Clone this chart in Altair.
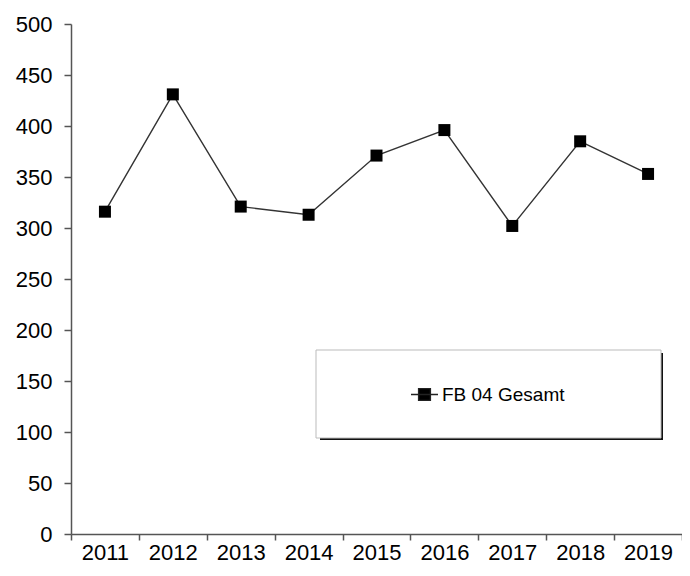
import altair as alt
import pandas as pd

years = [2011, 2012, 2013, 2014, 2015, 2016, 2017, 2018, 2019]
values = [316, 431, 321, 313, 371, 396, 302, 385, 353]
series_name = "FB 04 Gesamt"
y_ticks = list(range(0, 501, 50))

df = pd.DataFrame({"year": years, "value": values, "series": [series_name] * len(years)})

boundaries = [y - 0.5 for y in years] + [years[-1] + 0.5]
FONT = "Liberation Sans"
AX = "#555555"
W = 611
H = 510
BAND = W / len(years)

x_enc = alt.X(
    "year:Q",
    scale=alt.Scale(domain=[boundaries[0], boundaries[-1]], nice=False, zero=False),
    axis=alt.Axis(
        title=None, values=boundaries, grid=False,
        labelExpr=f"datum.value < {years[-1]} ? toString(datum.value + 0.5) : ''",
        labelOffset=BAND / 2, labelOverlap=False, labelFlush=False, labelBound=False,
        tickSize=6, labelPadding=2,
    ),
)
y_enc = alt.Y(
    "value:Q",
    scale=alt.Scale(domain=[0, 500], nice=False),
    axis=alt.Axis(title=None, values=y_ticks, grid=False, tickSize=7, labelPadding=12),
)

line = alt.Chart(df).mark_line(color="#333333", strokeWidth=1.4).encode(x=x_enc, y=y_enc)
points = alt.Chart(df).mark_point(shape="square", filled=True, size=144, opacity=1).encode(
    x=x_enc, y=y_enc,
    color=alt.Color(
        "series:N",
        scale=alt.Scale(domain=[series_name], range=["black"]),
        legend=alt.Legend(
            title=None, orient="none", legendX=339, legendY=356,
            symbolType="M-1,0H1M-0.44,-0.44H0.44V0.44H-0.44Z",
            symbolSize=729, symbolStrokeWidth=1.3, symbolStrokeColor="#222222",
            symbolFillColor="black", labelFont=FONT, labelFontSize=19,
            labelColor="black", labelOffset=3, padding=0,
        ),
    ),
)

one = alt.Data(values=[{"k": 1}])
shadow = alt.Chart(one).mark_rect(color="#111111").encode(
    x=alt.value(249), x2=alt.value(592), y=alt.value(329), y2=alt.value(416)
)
box = alt.Chart(one).mark_rect(fill="white", stroke="#bbbbbb", strokeWidth=1).encode(
    x=alt.value(245), x2=alt.value(590), y=alt.value(326), y2=alt.value(414)
)

chart = (
    alt.layer(shadow, box, line, points)
    .properties(
        width=W, height=H,
        autosize=alt.AutoSizeParams(type="none"),
        padding={"left": 63, "top": 16, "right": 0, "bottom": 30},
        background="white",
    )
    .configure_view(stroke=None)
    .configure_axis(
        domainColor=AX, domainWidth=1.5, tickColor=AX, tickWidth=1.5,
        labelFont=FONT, labelFontSize=22, labelColor="black",
    )
)

chart.save("out.html", embed_options={"renderer": "svg", "actions": False})
